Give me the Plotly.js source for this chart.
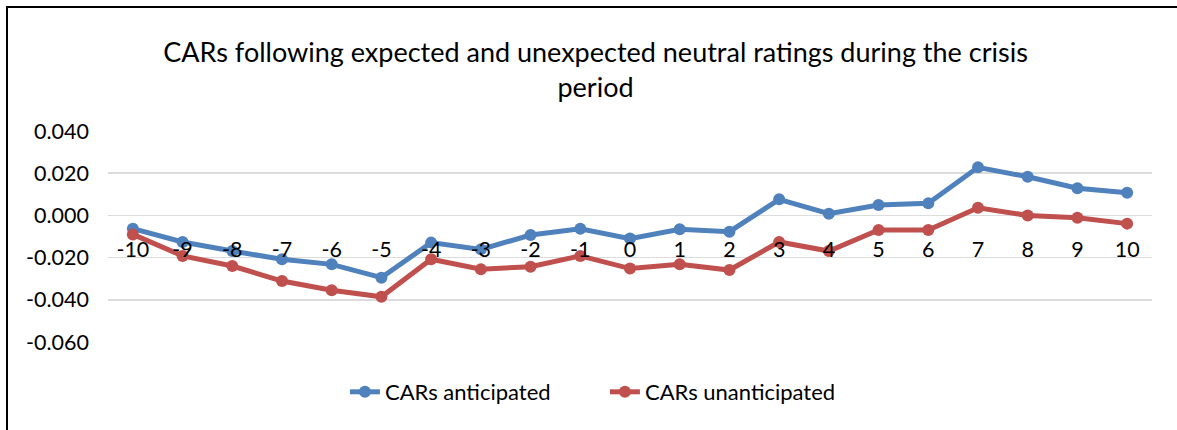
<!DOCTYPE html>
<html>
<head>
<meta charset="utf-8">
<script src="https://cdn.plot.ly/plotly-3.0.1.min.js"></script>
<style>html,body{margin:0;padding:0;background:#fff;}#chart{width:1177px;height:430px;}</style>
</head>
<body>
<div id="chart"></div>
<script>
const days = ["-10","-9","-8","-7","-6","-5","-4","-3","-2","-1","0","1","2","3","4","5","6","7","8","9","10"];
const carsAnticipated = [-0.0063,-0.0126,-0.0169,-0.0208,-0.0232,-0.0295,-0.0129,-0.0161,-0.0093,-0.0063,-0.0110,-0.0066,-0.0077,0.0076,0.0008,0.0049,0.0057,0.0228,0.0183,0.0129,0.0107];
const carsUnanticipated = [-0.0090,-0.0192,-0.0240,-0.0311,-0.0355,-0.0386,-0.0208,-0.0255,-0.0243,-0.0192,-0.0252,-0.0232,-0.0259,-0.0126,-0.0169,-0.0069,-0.0069,0.0036,0.0000,-0.0011,-0.0039];
const yTicks = [0.04,0.02,0,-0.02,-0.04,-0.06];
const yTickText = ["0.040","0.020","0.000","-0.020","-0.040","-0.060"];

const FONT = "Lato, 'Open Sans', sans-serif";
const traces = [
  {x: days, y: carsAnticipated, name: "CARs anticipated", type: "scatter", mode: "lines+markers",
   line: {color: "#4f81bd", width: 5}, marker: {color: "#4f81bd", size: 12}},
  {x: days, y: carsUnanticipated, name: "CARs unanticipated", type: "scatter", mode: "lines+markers",
   line: {color: "#c0504d", width: 5}, marker: {color: "#c0504d", size: 12}}
];
const layout = {
  width: 1177, height: 430,
  margin: {l: 108, r: 25, t: 131, b: 88},
  paper_bgcolor: "#fff", plot_bgcolor: "#fff",
  font: {family: FONT, size: 21, color: "#000"},
  title: {text: "CARs following expected and unexpected neutral ratings during the crisis<br>period",
          font: {family: FONT, size: 27, color: "#000"},
          x: 0.506, xref: "container", xanchor: "center",
          y: 1 - 62/430, yref: "container", yanchor: "middle"},
  xaxis: {type: "category", range: [-0.5, 20.5], anchor: "free", position: 0.6,
          showgrid: false, showline: false, ticks: "", ticklabelstandoff: 19,
          tickfont: {family: FONT, size: 21.5, color: "#000"}, fixedrange: true},
  yaxis: {range: [-0.06, 0.04], tickvals: yTicks, ticktext: yTickText,
          showgrid: true, gridcolor: "#dcdcdc", gridwidth: 1.5,
          zeroline: true, zerolinecolor: "#dcdcdc", zerolinewidth: 1.5,
          showline: false, ticks: "", ticklabelstandoff: 18,
          tickfont: {family: FONT, size: 21.5, color: "#000"}, fixedrange: true},
  showlegend: true,
  legend: {orientation: "h", x: 0.476, xanchor: "center", y: -0.237, yanchor: "middle",
           font: {family: FONT, size: 22, color: "#000"}, entrywidth: 215, entrywidthmode: "pixels",
           traceorder: "normal"},
  shapes: [
    {type: "rect", xref: "paper", yref: "paper",
     x0: (7-108)/1044, x1: (1190-108)/1044, y0: (342-445)/211, y1: (342-7)/211,
     line: {color: "#000", width: 2}, fillcolor: "rgba(0,0,0,0)", layer: "below"}
  ]
};
Plotly.newPlot("chart", traces, layout, {displayModeBar: false, staticPlot: true});
</script>
</body>
</html>
